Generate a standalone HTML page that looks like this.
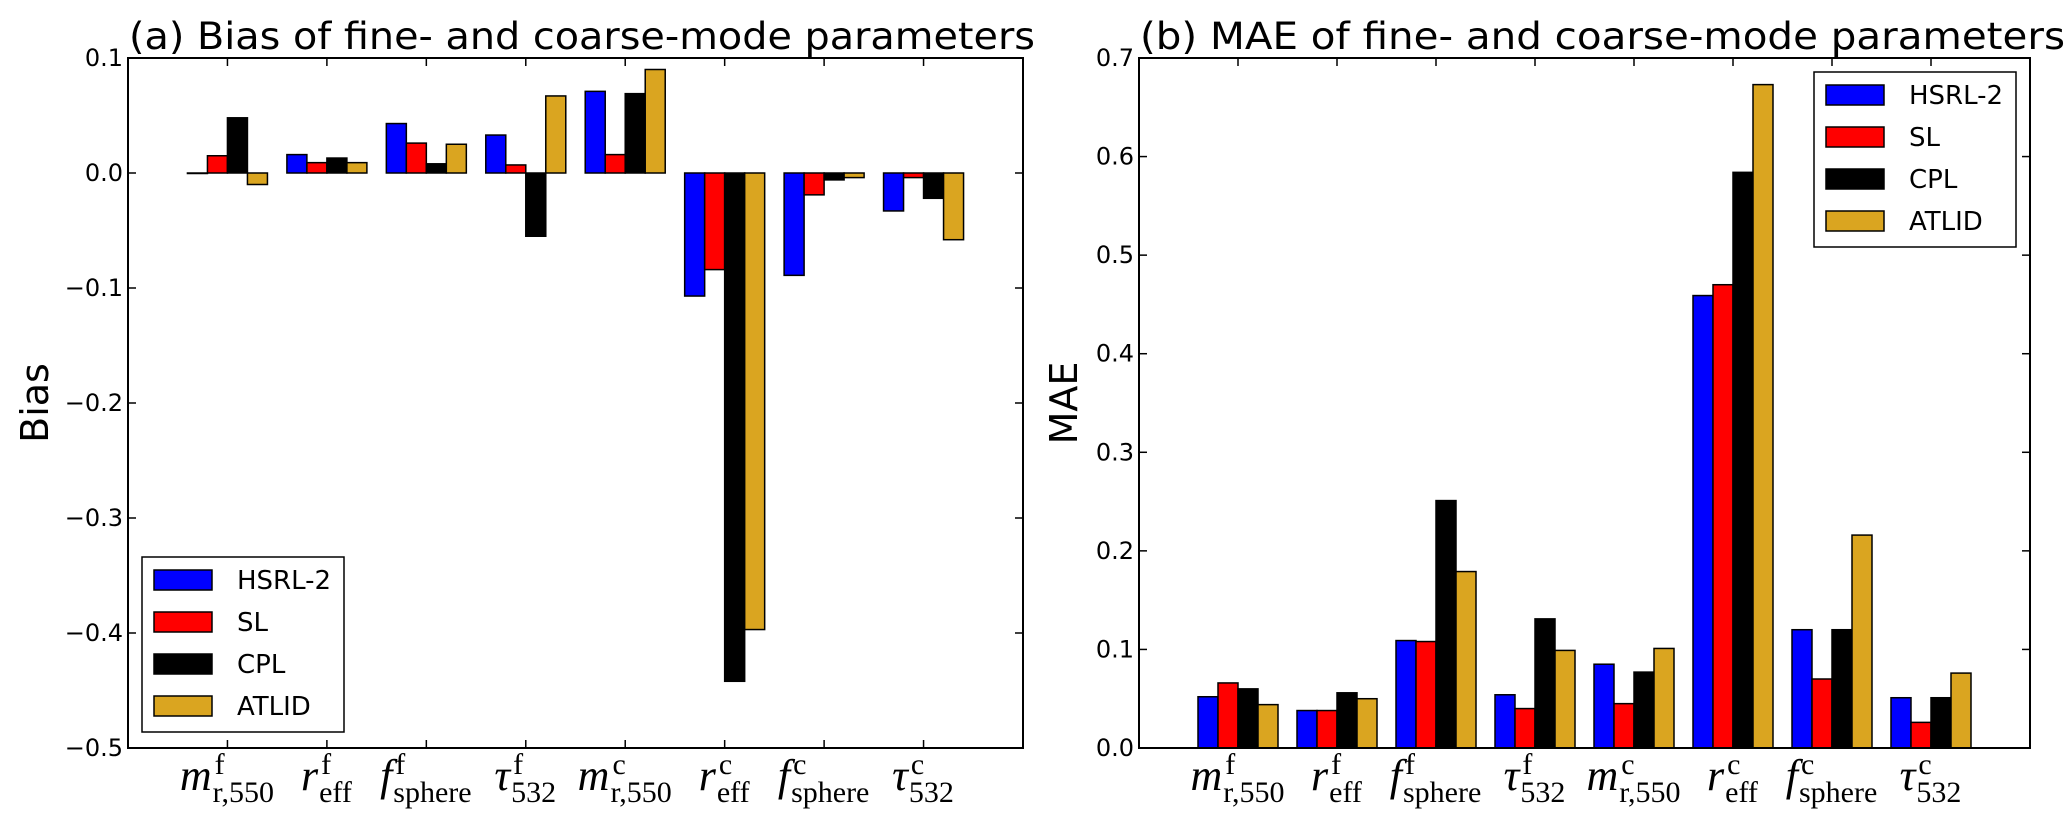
<!DOCTYPE html>
<html><head><meta charset="utf-8"><style>
body{margin:0;background:#fff;}
svg{display:block;font-family:"DejaVu Sans","Liberation Sans",sans-serif;}
</style></head><body>
<svg id="fig" width="2067" height="828" viewBox="0 0 2067 828"></svg>
<script>
const categories=[["m","r,550","f"],["r","eff","f"],["f","sphere","f"],["τ","532","f"],["m","r,550","c"],["r","eff","c"],["f","sphere","c"],["τ","532","c"]];
const seriesNames=["HSRL-2","SL","CPL","ATLID"];
const seriesColors=["#0000ff","#ff0000","#000000","#daa520"];
const biasHSRL=[0,0.016,0.043,0.033,0.071,-0.107,-0.089,-0.033];
const biasSL=[0.015,0.009,0.026,0.007,0.016,-0.084,-0.019,-0.004];
const biasCPL=[0.048,0.013,0.008,-0.055,0.069,-0.442,-0.006,-0.022];
const biasATLID=[-0.010,0.009,0.025,0.067,0.090,-0.397,-0.004,-0.058];
const maeHSRL=[0.052,0.038,0.109,0.054,0.085,0.459,0.120,0.051];
const maeSL=[0.066,0.038,0.108,0.040,0.045,0.470,0.070,0.026];
const maeCPL=[0.060,0.056,0.251,0.131,0.077,0.584,0.120,0.051];
const maeATLID=[0.044,0.050,0.179,0.099,0.101,0.673,0.216,0.076];
const biasTicks=["0.1","0.0","\u22120.1","\u22120.2","\u22120.3","\u22120.4","\u22120.5"];
const biasTickVals=[0.1,0,-0.1,-0.2,-0.3,-0.4,-0.5];
const maeTicks=["0.7","0.6","0.5","0.4","0.3","0.2","0.1","0.0"];
const maeTickVals=[0.7,0.6,0.5,0.4,0.3,0.2,0.1,0];

const NS="http://www.w3.org/2000/svg";
const svg=document.getElementById('fig');
function mk(tag,attrs,parent,text){const e=document.createElementNS(NS,tag);for(const k in attrs)e.setAttribute(k,attrs[k]);if(text!==undefined)e.textContent=text;(parent||svg).appendChild(e);return e;}
const SERIF='"Liberation Serif","DejaVu Serif",serif';

function panel(o){
  const g=mk('g',{});
  
  
  const L=o.left,R=o.right,T=58,B=748;
  const y=v=>T+(o.ymax-v)/(o.ymax-o.ymin)*(B-T);
  const step=(R-L)/9;
  const xc=i=>L+step*(i+1);
  o.series.forEach((vals,s)=>{
    vals.forEach((v,i)=>{
      const x0=xc(i)-40+s*20;
      const y0=y(0),y1=y(v);
      const r=mk('rect',{x:x0,y:Math.min(y0,y1),width:20,height:Math.max(Math.abs(y1-y0),0.5),fill:seriesColors[s],stroke:'#000','stroke-width':1.5},g);
      
      
    });
  });
  const fr=mk('rect',{x:L,y:T,width:R-L,height:B-T,fill:'none',stroke:'#000','stroke-width':2},g);
  
  
  o.tickVals.forEach((v,k)=>{
    const yy=y(v);
    mk('line',{x1:L,x2:L+8,y1:yy,y2:yy,stroke:'#000','stroke-width':1.5},g);
    mk('line',{x1:R,x2:R-8,y1:yy,y2:yy,stroke:'#000','stroke-width':1.5},g);
    const t=mk('text',{x:L-5,y:yy+8,'text-anchor':'end','font-size':24},g,o.tickLabels[k]);
    
    
  });
  categories.forEach((c,i)=>{
    const xx=xc(i);
    mk('line',{x1:xx,x2:xx,y1:B,y2:B-8,stroke:'#000','stroke-width':1.5},g);
    mk('line',{x1:xx,x2:xx,y1:T,y2:T+8,stroke:'#000','stroke-width':1.5},g);
    const lg=mk('g',{},g);
    
    
    const base=mk('text',{x:0,y:790,'font-family':SERIF,'font-size':44,'font-style':'italic'},lg,c[0]);
    const sub=mk('text',{x:0,y:802,'font-family':SERIF,'font-size':30},lg,c[1]);
    const sup=mk('text',{x:0,y:774,'font-family':SERIF,'font-size':30},lg,c[2]);
    const wb=base.getComputedTextLength(),ws=sub.getComputedTextLength(),wp=sup.getComputedTextLength();
    const tot=wb+Math.max(ws,wp)+2;
    const x0=xx-tot/2;
    base.setAttribute('x',x0);
    sub.setAttribute('x',x0+wb+1);
    sup.setAttribute('x',x0+wb+3);
  });
  const ttl=mk('text',{x:o.titleX,y:49,'font-size':37,textLength:o.titleW,lengthAdjust:'spacingAndGlyphs'},g,o.title);
  
  
  const yl=mk('text',{x:0,y:0,'text-anchor':'middle','font-size':38,transform:`translate(${o.ylabX},${(T+B)/2}) rotate(-90)`},g,o.ylabel);
  
  
  const lg=mk('g',{},g);
  
  
  mk('rect',{x:o.legX,y:o.legY,width:202,height:175,fill:'#fff',stroke:'#000','stroke-width':1.5},lg);
  seriesNames.forEach((n,s)=>{
    const cy=o.legY+23+s*42;
    const e=mk('g',{},lg);
    
    
    mk('rect',{x:o.legX+12,y:cy-10,width:58,height:20,fill:seriesColors[s],stroke:'#000','stroke-width':1.5},e);
    mk('text',{x:o.legX+95,y:cy+9,'font-size':26},e,n);
  });
}
panel({name:'bias-panel',left:128,right:1023,ymin:-0.5,ymax:0.1,series:[biasHSRL,biasSL,biasCPL,biasATLID],tickVals:biasTickVals,tickLabels:biasTicks,title:'(a) Bias of fine- and coarse-mode parameters',titleX:129,titleW:906,ylabel:'Bias',ylabX:48,legX:142,legY:557});
panel({name:'mae-panel',left:1139,right:2030,ymin:0,ymax:0.7,series:[maeHSRL,maeSL,maeCPL,maeATLID],tickVals:maeTickVals,tickLabels:maeTicks,title:'(b) MAE of fine- and coarse-mode parameters',titleX:1140,titleW:925,ylabel:'MAE',ylabX:1077,legX:1814,legY:72});
</script>
</body></html>
